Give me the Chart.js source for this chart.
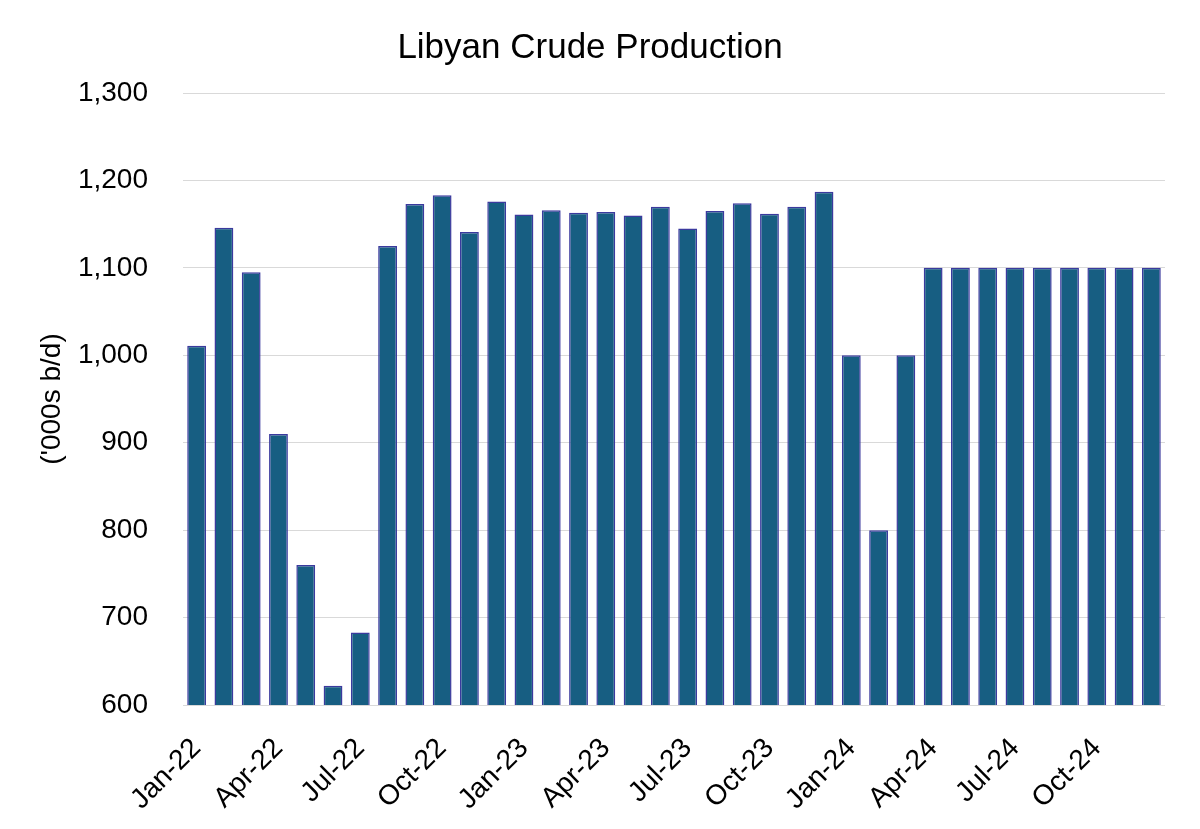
<!DOCTYPE html>
<html>
<head>
<meta charset="utf-8">
<title>Libyan Crude Production</title>
<script src="https://cdn.jsdelivr.net/npm/chart.js@4.4.1/dist/chart.umd.min.js"></script>
<style>
    html, body { margin: 0; padding: 0; background: #fff; }
    #wrap { position: relative; width: 1200px; height: 829px; }
</style>
</head>
<body>
<div id="wrap">
    <canvas id="bar-chart"></canvas>
</div>
<script>
// monthly production, '000s b/d
const months = [
    "Jan-22", "Feb-22", "Mar-22", "Apr-22", "May-22", "Jun-22",
    "Jul-22", "Aug-22", "Sep-22", "Oct-22", "Nov-22", "Dec-22",
    "Jan-23", "Feb-23", "Mar-23", "Apr-23", "May-23", "Jun-23",
    "Jul-23", "Aug-23", "Sep-23", "Oct-23", "Nov-23", "Dec-23",
    "Jan-24", "Feb-24", "Mar-24", "Apr-24", "May-24", "Jun-24",
    "Jul-24", "Aug-24", "Sep-24", "Oct-24", "Nov-24", "Dec-24"
];
const production = [
    1011, 1146, 1095, 910, 760, 622, 683, 1125, 1173, 1183, 1141, 1176,
    1161, 1166, 1163, 1164, 1160, 1170, 1145, 1165, 1174, 1162, 1170, 1187,
    1000, 800, 1000, 1100, 1100, 1100, 1100, 1100, 1100, 1100, 1100, 1100
];
// only every third month gets a label
const labelEvery = 3;
const yMin = 600;
const yMax = 1300;
const yStep = 100;

const font = "'Liberation Sans', Arial, sans-serif";

const chartConfig = {
    type: "bar",
    data: {
        labels: months,
        datasets: [
            {
                label: "Production",
                data: production,
                backgroundColor: "#175e82",
                borderColor: "#3b3a9e",
                borderWidth: 1.5,
                barPercentage: 0.69,
                categoryPercentage: 1.0,
            },
        ],
    },
    options: {
        responsive: true,
        maintainAspectRatio: false,
        animation: false,
        layout: {
            padding: { left: 15, right: 35, top: 0, bottom: 0 },
        },
        plugins: {
            legend: { display: false },
            tooltip: { enabled: false },
            title: {
                display: true,
                text: "Libyan Crude Production",
                color: "#000",
                font: { family: font, size: 35, weight: "normal" },
                padding: { top: 27, bottom: 24 },
            },
        },
        scales: {
            x: {
                grid: { display: false, drawTicks: false },
                border: { display: false },
                ticks: {
                    autoSkip: false,
                    minRotation: 45,
                    maxRotation: 45,
                    padding: 27,
                    color: "#000",
                    font: { family: font, size: 28 },
                    callback: function (value, index) {
                        return index % labelEvery === 0 ? months[index] : "";
                    },
                },
                afterFit: function (scale) {
                    scale.height = 124;
                    scale.paddingLeft = 0;
                    scale.paddingRight = 0;
                },
            },
            y: {
                min: yMin,
                max: yMax,
                grid: { color: "#d9d9d9", lineWidth: 1, drawTicks: false },
                border: { display: false },
                ticks: {
                    stepSize: yStep,
                    padding: 35,
                    color: "#000",
                    font: { family: font, size: 28 },
                    callback: function (value) {
                        return value.toLocaleString("en-US");
                    },
                },
                title: {
                    display: true,
                    text: "('000s b/d)",
                    color: "#000",
                    font: { family: font, size: 28 },
                    padding: { top: 20, bottom: 0 },
                },
                afterFit: function (scale) {
                    scale.width = 168;
                },
            },
        },
    },
};

const ctx = document.getElementById("bar-chart").getContext("2d");
new Chart(ctx, chartConfig);
</script>
</body>
</html>
